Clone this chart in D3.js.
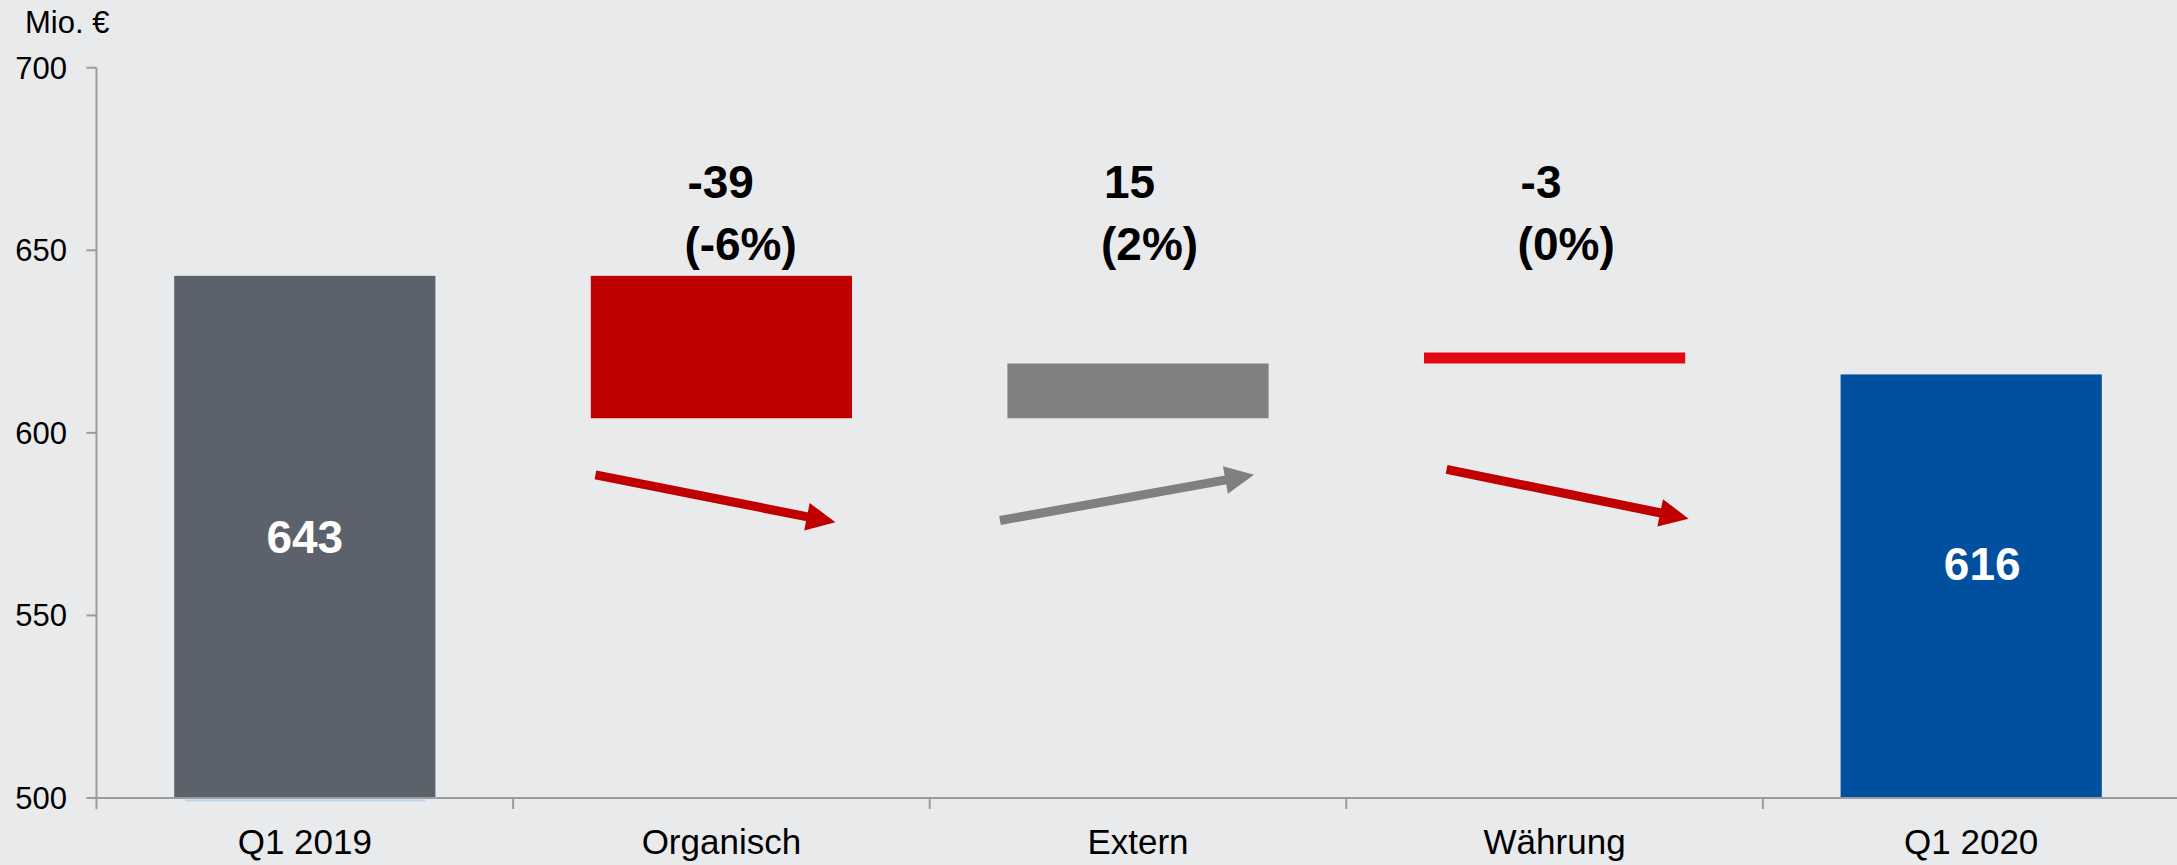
<!DOCTYPE html>
<html>
<head>
<meta charset="utf-8">
<script src="https://cdnjs.cloudflare.com/ajax/libs/d3/7.8.5/d3.min.js"></script>
<style>
  html, body { margin: 0; padding: 0; background: #e9eaec; }
  svg { display: block; font-family: "Liberation Sans", Arial, sans-serif; }
</style>
</head>
<body>
<div id="chart"></div>
<script>
// data
var categories = ['Q1 2019', 'Organisch', 'Extern', 'Währung', 'Q1 2020'];
var barLow  = [500, 604, 604, 619, 500];
var barHigh = [643, 643, 619, 622, 616];
var totalLabels = ['643', '', '', '', '616'];
var deltaLabels = ['', '-39', '15', '-3', ''];
var pctLabels   = ['', '(-6%)', '(2%)', '(0%)', ''];
var arrowFrom = [null, 588.5, 576, 590, null];
var arrowTo   = [null, 575.5, 588.5, 576.5, null];
var yTicks = [500, 550, 600, 650, 700];

// styles / layout nudges
var barColors = ['#5b626b', '#c00000', '#808080', '#e30613', '#00509f'];
var arrowColors = [null, '#c00000', '#808080', '#c00000', null];
var arrowDx   = [0, -6, -11, 13, 0];
var arrowHalf = [0, 120, 127, 121, 0];
var totalDx = [0, 0, 0, 0, 11];
var totalDy = [0, 0, 0, 0, -22];

var width = 2177, height = 865;

var svg = d3.select('#chart').append('svg')
            .attr('width', width)
            .attr('height', height);

svg.append('rect')
   .attr('width', width)
   .attr('height', height)
   .style('fill', '#e9eaec');

var x = d3.scaleBand()
          .domain(categories)
          .range([96.5, 96.5 + 5 * 416.6])
          .paddingInner(0)
          .paddingOuter(0);

var y = d3.scaleLinear()
          .domain([500, 700])
          .range([798, 67.7]);

var barW = x.bandwidth() * 0.627;
function cx(c) { return x(c) + x.bandwidth() / 2; }

// ************ bars ************
svg.selectAll('.bar')
   .data(categories)
   .enter().append('rect')
   .attr('class', 'bar')
   .attr('x', function(d) { return cx(d) - barW / 2; })
   .attr('width', barW)
   .attr('y', function(d, i) { return y(barHigh[i]); })
   .attr('height', function(d, i) { return y(barLow[i]) - y(barHigh[i]); })
   .style('fill', function(d, i) { return barColors[i]; });

// faint blue line under the first bar
svg.append('line')
   .attr('x1', cx(categories[0]) - barW / 2 + 11)
   .attr('x2', cx(categories[0]) + barW / 2 - 10)
   .attr('y1', y(500) + 2.5)
   .attr('y2', y(500) + 2.5)
   .style('stroke', '#bcd6ee')
   .style('stroke-width', 2);

// ************ axes ************
var axisColor = '#9c9c9c';

svg.append('line')
   .attr('x1', 96.5).attr('x2', 96.5)
   .attr('y1', y(700)).attr('y2', y(500) + 11)
   .style('stroke', axisColor).style('stroke-width', 2);

svg.append('line')
   .attr('x1', 96.5).attr('x2', width)
   .attr('y1', y(500)).attr('y2', y(500))
   .style('stroke', axisColor).style('stroke-width', 2);

svg.selectAll('.ytick')
   .data(yTicks)
   .enter().append('line')
   .attr('x1', 86.5).attr('x2', 96.5)
   .attr('y1', function(d) { return y(d); })
   .attr('y2', function(d) { return y(d); })
   .style('stroke', axisColor).style('stroke-width', 2);

svg.selectAll('.ylabel')
   .data(yTicks)
   .enter().append('text')
   .attr('x', 67)
   .attr('y', function(d) { return y(d) + 11; })
   .attr('text-anchor', 'end')
   .style('font-size', '31px')
   .style('fill', '#000')
   .text(function(d) { return d; });

svg.selectAll('.xtick')
   .data(categories.slice(1))
   .enter().append('line')
   .attr('x1', function(d) { return x(d); })
   .attr('x2', function(d) { return x(d); })
   .attr('y1', y(500)).attr('y2', y(500) + 11)
   .style('stroke', axisColor).style('stroke-width', 2);

svg.selectAll('.xlabel')
   .data(categories)
   .enter().append('text')
   .attr('x', function(d) { return cx(d); })
   .attr('y', 854)
   .attr('text-anchor', 'middle')
   .style('font-size', '35px')
   .style('fill', '#000')
   .text(function(d) { return d; });

svg.append('text')
   .attr('x', 25)
   .attr('y', 33)
   .style('font-size', '31px')
   .style('fill', '#000')
   .text('Mio. €');

// ************ labels ************
svg.selectAll('.total')
   .data(categories)
   .enter().append('text')
   .attr('x', function(d, i) { return cx(d) + totalDx[i]; })
   .attr('y', function(d, i) { return (y(barLow[i]) + y(barHigh[i])) / 2 + 16 + totalDy[i]; })
   .attr('text-anchor', 'middle')
   .style('font-size', '46px')
   .style('font-weight', 'bold')
   .style('fill', '#fff')
   .text(function(d, i) { return totalLabels[i]; });

svg.selectAll('.delta')
   .data(categories)
   .enter().append('text')
   .attr('x', function(d) { return cx(d) - 34; })
   .attr('y', 198)
   .style('font-size', '46px')
   .style('font-weight', 'bold')
   .style('fill', '#000')
   .text(function(d, i) { return deltaLabels[i]; });

svg.selectAll('.pct')
   .data(categories)
   .enter().append('text')
   .attr('x', function(d) { return cx(d) - 37; })
   .attr('y', 260)
   .style('font-size', '46px')
   .style('font-weight', 'bold')
   .style('fill', '#000')
   .text(function(d, i) { return pctLabels[i]; });

// ************ arrows ************
var headLen = 29, headHalf = 14, shaft = 9;
categories.forEach(function(c, i) {
  if (arrowFrom[i] === null) return;
  var x1 = cx(c) + arrowDx[i] - arrowHalf[i], y1 = y(arrowFrom[i]);
  var x2 = cx(c) + arrowDx[i] + arrowHalf[i], y2 = y(arrowTo[i]);
  var dx = x2 - x1, dy = y2 - y1, len = Math.sqrt(dx * dx + dy * dy);
  var ux = dx / len, uy = dy / len;
  var bx = x2 - ux * headLen, by = y2 - uy * headLen;
  svg.append('line')
     .attr('x1', x1).attr('y1', y1)
     .attr('x2', bx + ux * 2).attr('y2', by + uy * 2)
     .style('stroke', arrowColors[i])
     .style('stroke-width', shaft);
  svg.append('polygon')
     .attr('points', [
        [x2, y2],
        [bx - uy * headHalf, by + ux * headHalf],
        [bx + uy * headHalf, by - ux * headHalf]
     ].map(function(p) { return p.join(','); }).join(' '))
     .style('fill', arrowColors[i]);
});
</script>
</body>
</html>
